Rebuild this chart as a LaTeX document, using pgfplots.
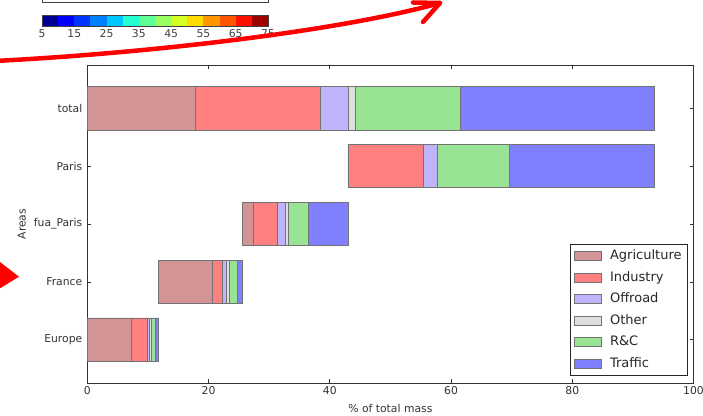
\documentclass[border=0pt]{standalone}
\usepackage{pgfplots}
\pgfplotsset{compat=1.18}
\usepackage{fontspec}
\setmainfont{DejaVu Sans}
\definecolor{cAgr}{RGB}{210,148,148}
\definecolor{cInd}{RGB}{255,128,128}
\definecolor{cOff}{RGB}{190,180,250}
\definecolor{cOth}{RGB}{222,222,222}
\definecolor{cRC}{RGB}{152,228,148}
\definecolor{cTra}{RGB}{128,128,255}
\definecolor{j1}{RGB}{0,0,150}
\definecolor{j2}{RGB}{0,0,253}
\definecolor{j3}{RGB}{0,54,255}
\definecolor{j4}{RGB}{0,128,255}
\definecolor{j5}{RGB}{0,200,255}
\definecolor{j6}{RGB}{35,255,211}
\definecolor{j7}{RGB}{94,255,153}
\definecolor{j8}{RGB}{153,255,97}
\definecolor{j9}{RGB}{212,255,35}
\definecolor{j10}{RGB}{255,219,0}
\definecolor{j11}{RGB}{255,150,0}
\definecolor{j12}{RGB}{255,85,0}
\definecolor{j13}{RGB}{252,17,0}
\definecolor{j14}{RGB}{160,0,0}
\begin{document}
\begin{tikzpicture}[x=1pt,y=1pt]
\useasboundingbox (0,0) rectangle (703,415);
\clip (0,0) rectangle (703,415);
% frame of the box above the colour bar
\draw[black!75, line width=0.8pt] (42,425) -- (42,412.3) -- (268,412.3) -- (268,425);
% colour bar
\begin{axis}[at={(42pt,389pt)}, anchor=south west, scale only axis,
  width=226pt, height=11pt, xmin=5, xmax=75, ymin=0, ymax=1,
  xtick={5,15,...,75}, ytick=\empty, major tick length=0pt,
  axis line style={black!75, line width=0.8pt}, axis on top,
  ticklabel style={font=\fontsize{10.8}{13}\selectfont, text=black!75},
  /pgf/number format/assume math mode=true]
\fill[j1] (axis cs:5,0) rectangle (axis cs:10,1);
\fill[j2] (axis cs:10,0) rectangle (axis cs:15,1);
\fill[j3] (axis cs:15,0) rectangle (axis cs:20,1);
\fill[j4] (axis cs:20,0) rectangle (axis cs:25,1);
\fill[j5] (axis cs:25,0) rectangle (axis cs:30,1);
\fill[j6] (axis cs:30,0) rectangle (axis cs:35,1);
\fill[j7] (axis cs:35,0) rectangle (axis cs:40,1);
\fill[j8] (axis cs:40,0) rectangle (axis cs:45,1);
\fill[j9] (axis cs:45,0) rectangle (axis cs:50,1);
\fill[j10] (axis cs:50,0) rectangle (axis cs:55,1);
\fill[j11] (axis cs:55,0) rectangle (axis cs:60,1);
\fill[j12] (axis cs:60,0) rectangle (axis cs:65,1);
\fill[j13] (axis cs:65,0) rectangle (axis cs:70,1);
\fill[j14] (axis cs:70,0) rectangle (axis cs:75,1);
\end{axis}
% main chart
\begin{axis}[at={(87.3pt,32pt)}, anchor=south west, scale only axis,
  width=606.2pt, height=318pt,
  xbar stacked, bar width=0.75,
  legend image code/.code={\draw[#1] (0pt,-4.5pt) rectangle (27pt,4.5pt);},
  xmin=0, xmax=100, ymin=-0.75, ymax=4.75,
  ytick={0,1,2,3,4}, yticklabels={Europe,France,fua\_Paris,Paris,total},
  xtick={0,20,...,100},
  tick align=inside, major tick length=4pt,
  tick style={black!80, line width=0.6pt},
  axis line style={black!80, line width=0.8pt},
  ticklabel style={font=\fontsize{10.8}{13}\selectfont, text=black!80},
  yticklabel style={xshift=-1.5pt},
  /pgf/number format/assume math mode=true,
  xlabel={\% of total mass}, ylabel={Areas},
  label style={font=\fontsize{10.8}{13}\selectfont, text=black!80},
  xlabel style={at={(axis description cs:0.5,0)}, anchor=center, yshift=-25pt},
  ylabel style={at={(axis description cs:-0.1082,0.5)}, anchor=center},
  legend cell align=left,
  legend style={at={(0.99,0.022)}, anchor=south east, draw=black!85,
    line width=0.8pt, font=\fontsize{13}{15}\selectfont, text=black!85,
    inner sep=3.5pt, row sep=5pt,
    nodes={inner sep=2pt, text height=9.5pt, text depth=3pt},
    /tikz/every odd column/.append style={column sep=6pt}},
  every axis plot/.append style={draw=black!55, line width=0.8pt},
]
\addplot[draw=none, fill=none, forget plot] coordinates {(0,0) (11.8,1) (25.6,2) (43.0,3) (0,4)};
\addplot[fill=cAgr] coordinates {(7.3,0) (8.8,1) (1.8,2) (0,3) (17.9,4)};
\addplot[fill=cInd] coordinates {(2.65,0) (1.7,1) (3.9,2) (12.4,3) (20.5,4)};
\addplot[fill=cOff] coordinates {(0.25,0) (0.7,1) (1.3,2) (2.3,3) (4.6,4)};
\addplot[fill=cOth] coordinates {(0.3,0) (0.4,1) (0.6,2) (0,3) (1.3,4)};
\addplot[fill=cRC] coordinates {(0.8,0) (1.3,1) (3.3,2) (12.0,3) (17.2,4)};
\addplot[fill=cTra] coordinates {(0.5,0) (0.9,1) (6.5,2) (23.8,3) (32.0,4)};
\legend{Agriculture,Industry,Offroad,Other,R\&C,Traffic}
\end{axis}
% red annotation arrows
\draw[red, line width=4.5pt, line cap=round] (-5,354) .. controls (150,362) and (340,384) .. (440,412);
\draw[red, line width=4.5pt, line cap=round, line join=round] (413,412.5) -- (440,412) -- (423,393);
\fill[red] (19,138.3) -- (-2,154.5) -- (-2,125.5) -- cycle;
\end{tikzpicture}
\end{document}
